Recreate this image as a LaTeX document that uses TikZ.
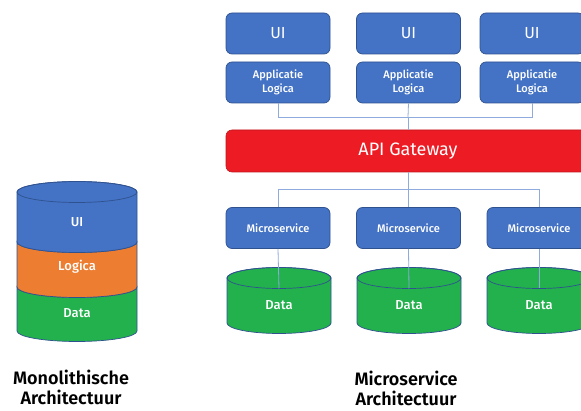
\documentclass[tikz,border=0pt]{standalone}
\usepackage{fontspec}
\setmainfont{Fira Sans}
\newfontfamily\medfont{Fira Sans Medium}
\newfontfamily\semifont{Fira Sans SemiBold}
\definecolor{boxblue}{HTML}{4472C4}
\definecolor{edgeblue}{HTML}{2F528F}
\definecolor{linkblue}{HTML}{8FAADC}
\definecolor{layerorange}{HTML}{ED7D31}
\definecolor{datagreen}{HTML}{22B14C}
\definecolor{gatered}{HTML}{ED1C24}
\begin{document}
\begin{tikzpicture}[x=1pt,y=1pt,
  svcbox/.style={draw=edgeblue,line width=0.7pt,fill=boxblue,rounded corners=6pt,
    minimum width=104pt,minimum height=41pt,inner sep=0pt,text=white,align=center},
  bigtxt/.style={font=\fontsize{16}{18}\selectfont},
  smalltxt/.style={font=\medfont\fontsize{11}{14.5}\selectfont},
  link/.style={draw=linkblue,line width=0.8pt},
  shell/.style={draw=edgeblue,line width=0.7pt},
  lbl/.style={text=white,font=\medfont\fontsize{13}{15}\selectfont},
  title/.style={align=center,font=\semifont\fontsize{18}{19.5}\selectfont}]
\useasboundingbox (0,0) rectangle (581,410);
\clip (0,0) rectangle (581,410);

% ---------- monolith: stacked cylinder ----------
% data layer
\path[shell,fill=datagreen] (17,123) -- (17,79) arc[start angle=180,end angle=360,x radius=60,y radius=10.5]
  -- (137,123) arc[start angle=0,end angle=-180,x radius=60,y radius=10.5] -- cycle;
% logic layer
\path[shell,fill=layerorange] (17,168) -- (17,123) arc[start angle=180,end angle=360,x radius=60,y radius=10.5]
  -- (137,168) arc[start angle=0,end angle=-180,x radius=60,y radius=10.5] -- cycle;
% ui layer with top face
\path[shell,fill=boxblue] (17,218) -- (17,168) arc[start angle=180,end angle=360,x radius=60,y radius=10.5]
  -- (137,218) arc[start angle=0,end angle=180,x radius=60,y radius=10.5] -- cycle;
\draw[shell] (77,218) ellipse[x radius=60,y radius=10.5];
\node[lbl] (mui) at (77,188) {UI};
\node[lbl] (mlogic) at (77,143) {Logica};
\node[lbl] (mdata) at (77,97) {Data};
\node[title] (mtitle) at (71,22.5) {Monolithische\\Architectuur};

% ---------- microservices: clients ----------
\node[svcbox,bigtxt] (ui1) at (278,376.5) {UI};
\node[svcbox,bigtxt] (ui2) at (408.5,376.5) {UI};
\node[svcbox,bigtxt] (ui3) at (532,376.5) {UI};
\node[svcbox,smalltxt] (app1) at (278,327.5) {Applicatie\\Logica};
\node[svcbox,smalltxt] (app2) at (408.5,327.5) {Applicatie\\Logica};
\node[svcbox,smalltxt] (app3) at (532,327.5) {Applicatie\\Logica};

% gateway
\node[draw=gatered!80!black,line width=0.6pt,fill=gatered,rounded corners=6pt,
  minimum width=364pt,minimum height=42pt,inner sep=0pt,text=white,
  font=\fontsize{18}{20}\selectfont] (gw) at (408,259) {API Gateway};

% services
\node[svcbox,smalltxt] (ms1) at (278,182) {Microservice};
\node[svcbox,smalltxt] (ms2) at (408.5,182) {Microservice};
\node[svcbox,smalltxt] (ms3) at (539,182) {Microservice};

% data stores
\foreach \i/\cx in {1/279,2/409,3/539}{
  \path[shell,fill=datagreen] (\cx-52,132) -- (\cx-52,87)
    arc[start angle=180,end angle=360,x radius=52,y radius=10.5]
    -- (\cx+52,132) arc[start angle=0,end angle=180,x radius=52,y radius=10.5] -- cycle;
  \draw[shell] (\cx,132) ellipse[x radius=52,y radius=10.5];
  \coordinate (dtop\i) at (\cx,121.5);
  \node[lbl] (db\i) at (\cx,105) {Data};
}

% client bus into the gateway
\coordinate (busA) at (278,293);
\coordinate (busC) at (532,293);
\coordinate (busB) at (408,293);
\draw[link] (app1.south) -- (busA) -- (busC) -- (app3.south);
\draw[link] (app2.south) -- (busB);
\draw[link] (busB) -- (gw.north);

% service bus out of the gateway
\coordinate (sbusA) at (278,221);
\coordinate (sbusB) at (408,221);
\coordinate (sbusC) at (539,221);
\draw[link] (gw.south) -- (sbusB);
\draw[link] (ms1.north) -- (sbusA) -- (sbusC) -- (ms3.north);
\draw[link] (sbusB) -- (ms2.north |- sbusB) -- (ms2.north);

% services to their stores
\draw[link] (ms1.south) -- (dtop1);
\draw[link] (ms2.south) -- (dtop2);
\draw[link] (ms3.south) -- (dtop3);

\node[title] (stitle) at (406,21.5) {Microservice\\Architectuur};
\end{tikzpicture}
\end{document}
